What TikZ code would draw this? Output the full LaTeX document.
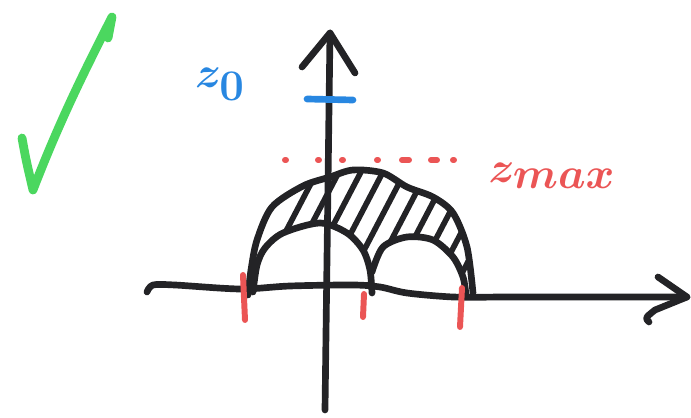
\documentclass[tikz,border=0pt]{standalone}
\usepackage{tikz}
\usetikzlibrary{positioning}
\definecolor{inkblack}{RGB}{35,35,38}
\definecolor{penblue}{RGB}{40,135,225}
\definecolor{penred}{RGB}{235,85,85}
\definecolor{pengreen}{RGB}{75,215,95}

\begin{document}
\begin{tikzpicture}[x=0.02cm, y=-0.02cm, line cap=round, line join=round,
  axis/.style={draw=inkblack, line width=3.8pt},
  hatch/.style={draw=inkblack, line width=3.2pt},
  redmark/.style={draw=penred, line width=3.4pt}]
  \useasboundingbox (0,0) rectangle (691,418);

  % fajfka
  \draw[pengreen, line width=5pt] (22,138) .. controls (26,160) .. (33,190)
    .. controls (60,120) and (85,70) .. (112,17) -- (108,38);

  % osa z
  \coordinate (zbot) at (325,410);
  \coordinate (ztop) at (330,33);
  \draw[axis] (zbot) -- (ztop);
  \draw[axis] (302,67) -- (ztop) -- (355,73);

  % vodorovna osa
  \coordinate (xtip) at (687,297);
  \draw[axis] plot[smooth] coordinates {(147,292) (153,285) (175,285) (240,289)
    (290,286) (353,285) (380,287) (407,293) (453,297) (500,297)} -- (xtip);
  \draw[axis] (658,277) -- (xtip) -- (655,310) .. controls (645,318) .. (649,322);

  % srafovana oblast
  \begin{scope}
    \clip (0,0) rectangle (691,275);
    \begin{scope}[even odd rule]
      \clip
        plot[smooth] coordinates {(250,295) (252,270) (258,240) (273,207) (303,187)
          (330,177) (353,170) (383,173) (407,187) (433,197) (453,213) (467,247) (473,293)} -- cycle
        plot[smooth] coordinates {(253,292) (257,265) (265,248) (283,233) (320,223)
          (347,233) (363,250) (370,270) (372,293)} -- cycle
        plot[smooth] coordinates {(371,293) (372,272) (383,247) (407,237) (433,240)
          (453,257) (463,277) (466,295)} -- cycle;
      \foreach \x in {250,272,...,480}
        \draw[hatch] (\x,300) -- ++(68,-130);
    \end{scope}
  \end{scope}

  % oblouky
  \draw[axis] plot[smooth] coordinates {(248,295) (251,270) (257,240) (272,207) (303,186)
    (330,177) (353,170) (383,173) (407,187) (433,197) (453,213) (467,247) (473,293)};
  \draw[axis] plot[smooth] coordinates {(253,292) (257,265) (265,248) (283,233) (320,223)
    (347,233) (363,250) (370,270) (372,293)};
  \draw[axis] plot[smooth] coordinates {(372,272) (383,247) (407,237) (433,240)
    (453,257) (463,277) (466,295)};

  % z_max
  \foreach \x/\w in {285/1, 318/1, 342/1, 377/1, 402/7, 431/6, 453/1}
    \draw[redmark] (\x,160) -- ++(\w,0);
  \node[text=penred, font=\fontsize{36}{40}\selectfont\boldmath] (zmax) at (552,176) {$z_{max}$};

  % z_0
  \draw[penblue, line width=3.8pt] (307,99) -- (353,100);
  \node[text=penblue, font=\fontsize{42}{46}\selectfont\boldmath] (zzero) at (220,84) {$z_0$};

  % koreny
  \draw[redmark] (243,275) -- (245,320);
  \draw[redmark] (364,294) -- (363,317);
  \draw[redmark] (462,288) -- (460,327);
\end{tikzpicture}
\end{document}
